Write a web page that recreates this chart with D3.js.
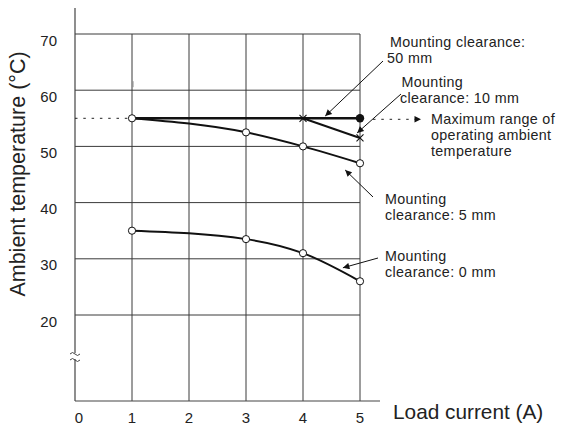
<!DOCTYPE html>
<html>
<head>
<meta charset="utf-8">
<script src="https://cdn.jsdelivr.net/npm/d3@7"></script>
<style>
  html, body { margin: 0; padding: 0; background: #fff; }
  svg { display: block; font-family: "Liberation Sans", Arial, Helvetica, sans-serif; }
</style>
</head>
<body>
<svg id="chart" width="562" height="430"></svg>
<script>
// Load current (A) vs. maximum ambient temperature (°C) by mounting clearance
const xTicks = [0, 1, 2, 3, 4, 5];
const yTicks = [20, 30, 40, 50, 60, 70];

const loadCurrent = [1, 3, 4, 5];
const clearance50 = [55, 55, 55, 55];
const clearance10 = [55, 55, 55, 51.5];
const clearance5 = [55, 52.5, 50, 47];
const clearance0 = [35, 33.5, 31, 26];

const maxRangeTemp = 55;

// callout text and the (current, temperature) point each arrow points at
const annotations = [
  { lines: ["Mounting clearance:", "50 mm"], at: [4.39, 55.4] },
  { lines: ["Mounting", "clearance: 10 mm"], at: [4.95, 52.4] },
  { lines: ["Mounting", "clearance: 5 mm"], at: [4.74, 45.8] },
  { lines: ["Mounting", "clearance: 0 mm"], at: [4.7, 28.4] }
];
const maxRangeLines = ["Maximum range of", "operating ambient", "temperature"];

const svg = d3.select("#chart");
const x = d3.scaleLinear().domain([0, 5]).range([75, 360]);
const y = d3.scaleLinear().domain([20, 70]).range([315, 34]);
const axisBottomY = 401;
const axisTopY = 8;
const gridColor = "#3a3a3a";

// arrowhead marker
svg.append("defs").append("marker")
  .attr("id", "arrow").attr("viewBox", "0 0 10 10")
  .attr("refX", 10).attr("refY", 5)
  .attr("markerWidth", 9).attr("markerHeight", 6.5)
  .attr("markerUnits", "userSpaceOnUse")
  .attr("orient", "auto")
  .append("path").attr("d", "M0,0L10,5L0,10Z").attr("fill", "#111");

// horizontal grid
svg.append("g").selectAll("line").data(yTicks).join("line")
  .attr("x1", x(0)).attr("x2", x(5))
  .attr("y1", d => y(d)).attr("y2", d => y(d))
  .attr("stroke", gridColor).attr("stroke-width", 1);

// vertical grid
svg.append("g").selectAll("line").data(xTicks.filter(d => d > 0)).join("line")
  .attr("x1", d => x(d)).attr("x2", d => x(d))
  .attr("y1", y(70)).attr("y2", axisBottomY)
  .attr("stroke", gridColor).attr("stroke-width", 1);

// y axis with break
const breakY = 356;
svg.append("line").attr("x1", x(0)).attr("x2", x(0))
  .attr("y1", axisTopY).attr("y2", breakY - 3)
  .attr("stroke", "#444").attr("stroke-width", 1.2);
svg.append("line").attr("x1", x(0)).attr("x2", x(0))
  .attr("y1", breakY + 3).attr("y2", axisBottomY)
  .attr("stroke", "#444").attr("stroke-width", 1.2);
[breakY - 3, breakY + 3].forEach(by => {
  svg.append("path")
    .attr("d", `M${x(0) - 5},${by + 1} q2.5,-3 5,0 t5,0`)
    .attr("fill", "none").attr("stroke", "#444").attr("stroke-width", 1);
});

// x axis
svg.append("line").attr("x1", x(0)).attr("x2", 380)
  .attr("y1", axisBottomY).attr("y2", axisBottomY)
  .attr("stroke", "#444").attr("stroke-width", 1.2);

// tick labels
svg.append("g").selectAll("text").data(yTicks).join("text")
  .attr("x", 57).attr("y", d => y(d) + 11.5)
  .attr("text-anchor", "end").attr("font-size", 15).attr("fill", "#222")
  .text(d => d);
svg.append("g").selectAll("text").data(xTicks).join("text")
  .attr("x", d => x(d) + (d === 0 ? 4 : 0)).attr("y", 423)
  .attr("text-anchor", "middle").attr("font-size", 15).attr("fill", "#222")
  .text(d => d);

// axis titles
svg.append("text")
  .attr("transform", `translate(25,174) rotate(-90)`)
  .attr("text-anchor", "middle").attr("font-size", 21.5).attr("fill", "#222")
  .text("Ambient temperature (°C)");
svg.append("text")
  .attr("x", 393).attr("y", 419)
  .attr("font-size", 20.8).attr("fill", "#222")
  .text("Load current (A)");

// small mark above 60 °C at 1 A
svg.append("line")
  .attr("x1", x(1) + 1).attr("x2", x(1) + 1)
  .attr("y1", y(60) - 9).attr("y2", y(60) - 3)
  .attr("stroke", "#888").attr("stroke-width", 1);

// maximum operating range (dotted)
svg.append("line")
  .attr("x1", x(0)).attr("x2", x(1))
  .attr("y1", y(maxRangeTemp)).attr("y2", y(maxRangeTemp))
  .attr("stroke", "#222").attr("stroke-width", 1).attr("stroke-dasharray", "2.5,5.8");
svg.append("line")
  .attr("x1", x(5) + 13).attr("x2", 421)
  .attr("y1", y(maxRangeTemp) + 1).attr("y2", y(maxRangeTemp) + 1)
  .attr("stroke", "#222").attr("stroke-width", 1).attr("stroke-dasharray", "2.5,5.8")
  .attr("marker-end", "url(#arrow)");

const pts = vals => loadCurrent.map((c, i) => [c, vals[i]]);
const curve = d3.line().x(d => x(d[0])).y(d => y(d[1])).curve(d3.curveMonotoneX);

// curves
svg.append("path").attr("d", curve(pts(clearance0)))
  .attr("fill", "none").attr("stroke", "#111").attr("stroke-width", 2);
svg.append("path").attr("d", curve(pts(clearance5)))
  .attr("fill", "none").attr("stroke", "#111").attr("stroke-width", 2);
svg.append("path").attr("d", curve(pts(clearance10).slice(2)))
  .attr("fill", "none").attr("stroke", "#111").attr("stroke-width", 2);
svg.append("path").attr("d", d3.line().x(d => x(d[0])).y(d => y(d[1]))(pts(clearance50)))
  .attr("fill", "none").attr("stroke", "#111").attr("stroke-width", 2.5);

// markers: open circles
const circlePts = pts(clearance5).concat(pts(clearance0));
svg.append("g").selectAll("circle").data(circlePts).join("circle")
  .attr("cx", d => x(d[0])).attr("cy", d => y(d[1])).attr("r", 3.6)
  .attr("fill", "#fff").attr("stroke", "#111").attr("stroke-width", 1);

// crosses where 10 mm departs and ends
const crossPts = pts(clearance10).slice(2);
svg.append("g").selectAll("path").data(crossPts).join("path")
  .attr("d", d => {
    const cx = x(d[0]), cy = y(d[1]), s = 3.5;
    return `M${cx - s},${cy - s}L${cx + s},${cy + s}M${cx - s},${cy + s}L${cx + s},${cy - s}`;
  })
  .attr("stroke", "#111").attr("stroke-width", 1.1);

// filled end point for 50 mm
svg.append("circle")
  .attr("cx", x(5)).attr("cy", y(clearance50[3])).attr("r", 4.2).attr("fill", "#111");

// annotation leaders
const leaders = [
  { from: [383, 61], i: 0 },
  { from: [401, 94], i: 1 },
  { from: [373, 197], i: 2 },
  { from: [378, 258], i: 3 }
];
svg.append("g").selectAll("line").data(leaders).join("line")
  .attr("x1", d => d.from[0]).attr("y1", d => d.from[1])
  .attr("x2", d => x(annotations[d.i].at[0])).attr("y2", d => y(annotations[d.i].at[1]))
  .attr("stroke", "#111").attr("stroke-width", 1)
  .attr("marker-end", "url(#arrow)");

// annotation text blocks
function textBlock(lines, tx, ty, lh) {
  const t = svg.append("text").attr("font-size", 14.3)
    .attr("letter-spacing", 0.35).attr("fill", "#222");
  lines.forEach((s, k) => {
    t.append("tspan").attr("x", tx[k] !== undefined ? tx[k] : tx[0]).attr("y", ty + k * lh).text(s);
  });
}
textBlock(annotations[0].lines, [390, 387], 46.5, 16.4);
textBlock(annotations[1].lines, [401.5, 400], 87, 16.4);
textBlock(maxRangeLines, [431], 123.5, 16.4);
textBlock(annotations[2].lines, [385], 204, 16.4);
textBlock(annotations[3].lines, [385], 261, 16.4);
</script>
</body>
</html>
